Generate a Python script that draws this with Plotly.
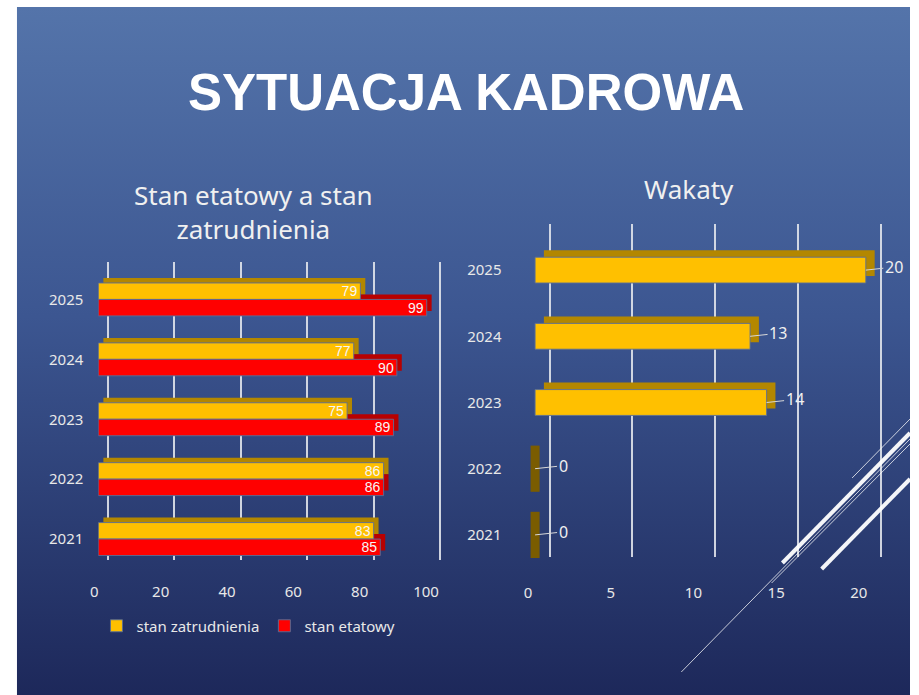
import base64
import plotly.graph_objects as go

# ---------------- data ----------------
years = ["2021", "2022", "2023", "2024", "2025"]
stan_zatrudnienia = [83, 86, 75, 77, 79]
stan_etatowy = [85, 86, 89, 90, 99]
wakaty = [0, 0, 14, 13, 20]
left_ticks = [0, 20, 40, 60, 80, 100]
right_ticks = [0, 5, 10, 15, 20]

title_text = "SYTUACJA KADROWA"
left_title = "Stan etatowy a stan<br>zatrudnienia"
right_title = "Wakaty"
name_zatr = "stan zatrudnienia"
name_etat = "stan etatowy"

# ---------------- style ----------------
W, H = 919, 695
FONT = "Noto Sans"
TXT = "#e8e8e8"
YEL, YEL_D = "#FFC000", "#B38700"
RED, RED_D = "#FF0000", "#B80000"
EDGE = "rgba(90,110,150,0.9)"
GRID = "rgba(225,228,235,0.9)"


def px(x):
    return x / W


def py(y):
    return 1 - y / H


def xdom(x0, x1):
    return [px(x0), px(x1)]


def ydom(top, bottom):
    return [py(bottom), py(top)]


fig = go.Figure()

# ---------- background gradient (slide) as an SVG image ----------
svg = ('<svg xmlns="http://www.w3.org/2000/svg" width="100" height="100" viewBox="0 0 100 100" '
       'preserveAspectRatio="none">'
       '<defs><linearGradient id="g" x1="0" y1="0" x2="0" y2="1">'
       '<stop offset="0" stop-color="rgb(84,116,170)"/>'
       '<stop offset="0.45" stop-color="rgb(60,86,145)"/>'
       '<stop offset="1" stop-color="rgb(29,40,90)"/>'
       '</linearGradient></defs><rect x="0" y="0" width="100" height="100" fill="url(#g)"/></svg>')
bg_src = "data:image/svg+xml;base64," + base64.b64encode(svg.encode()).decode()
images = [dict(source=bg_src, xref="paper", yref="paper", x=px(9), y=py(7),
               sizex=1 - px(9), sizey=py(7), xanchor="left", yanchor="top",
               sizing="stretch", layer="below")]

shapes = []
# decorative diagonal lines (slide theme)
deco = [((789, 563), (919, 433), 4, "rgba(255,255,255,0.95)"),
        ((829, 569), (919, 479), 4, "rgba(255,255,255,0.95)"),
        ((860, 478), (919, 419), 1, "rgba(255,255,255,0.75)"),
        ((686, 672), (919, 439), 1, "rgba(255,255,255,0.75)"),
        ((778, 583), (919, 444), 1, "rgba(255,255,255,0.75)")]
for (a, b, w, c) in deco:
    shapes.append(dict(type="line", xref="paper", yref="paper", layer="above",
                       x0=px(a[0]), y0=py(a[1]), x1=px(b[0]), y1=py(b[1]),
                       line=dict(color=c, width=w)))

# ---------------- LEFT CHART ----------------
LS = 3.38          # px per unit
L0 = 92            # px of value 0 (front)
BARTXT = dict(color="#f6f6f6", size=14, family="Liberation Sans")
fig.add_trace(go.Scatter(x=[None], y=[None], xaxis="x", yaxis="y",
                         showlegend=False, hoverinfo="skip"))
fig.add_trace(go.Bar(y=years, x=stan_zatrudnienia, orientation="h", xaxis="x2", yaxis="y2",
                     offset=0, width=0.275, marker=dict(color=YEL_D, line=dict(width=0)),
                     showlegend=False, hoverinfo="skip"))
fig.add_trace(go.Bar(y=years, x=stan_etatowy, orientation="h", xaxis="x2", yaxis="y2",
                     offset=-0.275, width=0.275, marker=dict(color=RED_D, line=dict(width=0)),
                     showlegend=False, hoverinfo="skip"))
fig.add_trace(go.Bar(y=years, x=stan_zatrudnienia, orientation="h", xaxis="x3", yaxis="y3",
                     name=name_zatr, offset=0, width=0.275,
                     marker=dict(color=YEL, line=dict(color=EDGE, width=1)),
                     text=stan_zatrudnienia, textposition="inside", insidetextanchor="end",
                     textangle=0, constraintext="none", textfont=BARTXT, legendrank=1))
fig.add_trace(go.Bar(y=years, x=stan_etatowy, orientation="h", xaxis="x3", yaxis="y3",
                     name=name_etat, offset=-0.275, width=0.275,
                     marker=dict(color=RED, line=dict(color=EDGE, width=1)),
                     text=stan_etatowy, textposition="inside", insidetextanchor="end",
                     textangle=0, constraintext="none", textfont=BARTXT, legendrank=2))

# ---------------- RIGHT CHART ----------------
RS = 16.85
R0 = 537
fig.add_trace(go.Scatter(x=[None], y=[None], xaxis="x4", yaxis="y4",
                         showlegend=False, hoverinfo="skip"))
fig.add_trace(go.Bar(y=years, x=wakaty, orientation="h", xaxis="x5", yaxis="y5",
                     offset=-0.195, width=0.39, marker=dict(color=YEL_D, line=dict(width=0)),
                     showlegend=False, hoverinfo="skip"))
fig.add_trace(go.Bar(y=years, x=wakaty, orientation="h", xaxis="x6", yaxis="y6",
                     offset=-0.195, width=0.39,
                     marker=dict(color=YEL, line=dict(color=EDGE, width=1)),
                     showlegend=False, hoverinfo="skip"))
zero_y = [y for y, v in zip(years, wakaty) if v == 0]
zero_x = [v for v in wakaty if v == 0]
fig.add_trace(go.Scatter(x=zero_x, y=zero_y, xaxis="x6", yaxis="y6", mode="markers",
                         marker=dict(symbol="line-ns", size=33,
                                     line=dict(color="#7A5C00", width=9)),
                         cliponaxis=False, showlegend=False, hoverinfo="skip"))

annotations = []
for i, v in enumerate(wakaty):
    annotations.append(dict(x=v, y=i, xref="x6", yref="y6", text=str(v),
                            showarrow=True, arrowhead=0, arrowwidth=1, arrowcolor="#d8d8d8",
                            ax=28, ay=-3, font=dict(size=16, color="#f0f0f0", family=FONT)))

annotations.append(dict(text="<b>%s</b>" % title_text, x=px(467), y=py(92), xref="paper", yref="paper",
                        showarrow=False, xanchor="center", yanchor="middle",
                        font=dict(size=51, color="white", family="Liberation Sans")))
annotations.append(dict(text=left_title, x=px(250), y=py(212), xref="paper", yref="paper",
                        showarrow=False, xanchor="center", yanchor="middle",
                        font=dict(size=26, color="#f0f0f0", family=FONT)))
annotations.append(dict(text=right_title, x=px(694), y=py(189), xref="paper", yref="paper",
                        showarrow=False, xanchor="center", yanchor="middle",
                        font=dict(size=26, color="#f0f0f0", family=FONT)))

cat_axis = dict(type="category", categoryorder="array", categoryarray=years,
                range=[-0.5, 4.5], showgrid=False, zeroline=False, showline=False,
                fixedrange=True)
hidden_cat = dict(cat_axis, showticklabels=False, ticks="")
tickfont = dict(size=15, color=TXT, family=FONT)

layout = dict(
    width=W, height=H, margin=dict(l=0, r=0, t=0, b=0),
    paper_bgcolor="white", plot_bgcolor="rgba(0,0,0,0)",
    barmode="overlay", showlegend=True,
    shapes=shapes, annotations=annotations, images=images,
    legend=dict(orientation="h", x=px(245), y=py(626), xanchor="center", yanchor="middle",
                bgcolor="rgba(0,0,0,0)", font=dict(size=15, color=TXT, family=FONT),
                itemwidth=30, traceorder="normal"),
    xaxis=dict(domain=xdom(102 - LS, 440 + LS), range=[-1, 101], tickvals=left_ticks,
               showgrid=True, gridcolor=GRID, gridwidth=1.5, showticklabels=False,
               zeroline=False, showline=False, ticks="", anchor="y", fixedrange=True),
    yaxis=dict(domain=ydom(262, 560), range=[0, 1], visible=False, anchor="x", fixedrange=True),
    xaxis2=dict(domain=xdom(L0 + 5, L0 + 5 + 100 * LS), range=[0, 100], visible=False,
                anchor="y2", fixedrange=True),
    yaxis2=dict(hidden_cat, domain=ydom(264.5, 564), anchor="x2", visible=False),
    xaxis3=dict(domain=xdom(L0, L0 + 100 * LS), range=[0, 100], tickvals=left_ticks,
                showgrid=False, zeroline=False, showline=False, ticks="",
                tickfont=tickfont, ticklabelshift=-4, ticklabelstandoff=12,
                anchor="y3", fixedrange=True),
    yaxis3=dict(cat_axis, domain=ydom(269.5, 569), tickfont=tickfont,
                ticks="", ticklabelstandoff=14, anchor="x3"),
    xaxis4=dict(domain=xdom(R0 + 15 - RS, R0 + 15 + 21 * RS), range=[-1, 21], tickvals=right_ticks,
                showgrid=True, gridcolor=GRID, gridwidth=1.5, showticklabels=False,
                zeroline=False, showline=False, ticks="", anchor="y4", fixedrange=True),
    yaxis4=dict(domain=ydom(224, 557), range=[0, 1], visible=False, anchor="x4", fixedrange=True),
    xaxis5=dict(domain=xdom(R0 + 9 - RS, R0 + 9 + 21 * RS), range=[-1, 21], visible=False,
                anchor="y5", fixedrange=True),
    yaxis5=dict(hidden_cat, domain=ydom(230, 561), anchor="x5", visible=False),
    xaxis6=dict(domain=xdom(R0 - RS, R0 + 21 * RS), range=[-1, 21], tickvals=right_ticks,
                showgrid=False, zeroline=False, showline=False, ticks="",
                tickfont=tickfont, ticklabelshift=-7, ticklabelstandoff=14,
                anchor="y6", fixedrange=True),
    yaxis6=dict(cat_axis, domain=ydom(237, 568), tickfont=tickfont,
                ticks="", ticklabelstandoff=16, anchor="x6"),
)
fig.update_layout(**layout)

fig.write_html("out.html", config=dict(responsive=False, displayModeBar=False),
               post_script="document.body.style.margin='0';document.body.style.overflow='hidden';")
